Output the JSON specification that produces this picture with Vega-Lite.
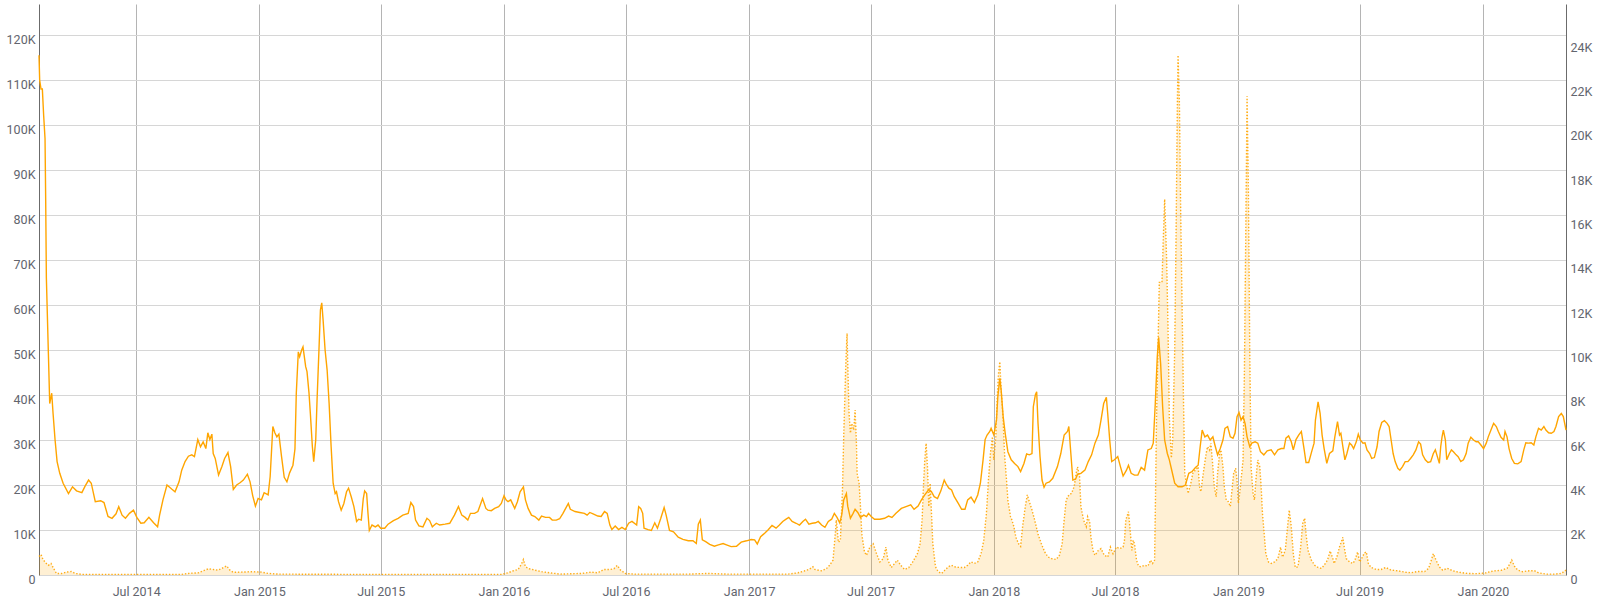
{
"$schema": "https://vega.github.io/schema/vega-lite/v6.json",
"width": 1527, "height": 571,
"autosize": {"type": "none"},
"padding": {"left": 39, "top": 4, "right": 34, "bottom": 25},
"background": "white",
"config": {"view": {"stroke": null}, "font": "Roboto", "axis": {"labelFont": "Roboto", "labelFontSize": 12.5, "labelColor": "#62656e", "ticks": false, "title": null}},
"datasets": {
"main": [
{"d":"2014-02-06","v":115.5},{"d":"2014-02-07","v":110},{"d":"2014-02-09","v":108},{"d":"2014-02-11","v":108},{"d":"2014-02-13","v":102},{"d":"2014-02-15","v":97},{"d":"2014-02-16","v":83},{"d":"2014-02-17","v":66},{"d":"2014-02-20","v":49.3},{"d":"2014-02-22","v":38.1},{"d":"2014-02-25","v":40.4},{"d":"2014-02-27","v":35.9},
{"d":"2014-03-02","v":30},{"d":"2014-03-05","v":25.2},{"d":"2014-03-09","v":22.6},{"d":"2014-03-14","v":20.4},{"d":"2014-03-22","v":18.1},{"d":"2014-03-28","v":19.6},{"d":"2014-04-03","v":18.7},{"d":"2014-04-11","v":18.3},{"d":"2014-04-16","v":19.8},{"d":"2014-04-21","v":21.1},{"d":"2014-04-25","v":20.4},
{"d":"2014-05-01","v":16.3},{"d":"2014-05-09","v":16.5},{"d":"2014-05-14","v":16.1},{"d":"2014-05-20","v":13},{"d":"2014-05-26","v":12.6},{"d":"2014-06-01","v":13.6},{"d":"2014-06-05","v":15.2},{"d":"2014-06-10","v":13.3},{"d":"2014-06-15","v":12.6},{"d":"2014-06-21","v":13.7},{"d":"2014-06-27","v":14.4},
{"d":"2014-07-02","v":12.8},{"d":"2014-07-08","v":11.5},{"d":"2014-07-13","v":11.6},{"d":"2014-07-20","v":12.8},{"d":"2014-07-27","v":11.6},{"d":"2014-08-02","v":10.7},{"d":"2014-08-05","v":13.3},{"d":"2014-08-10","v":16.7},{"d":"2014-08-16","v":20},{"d":"2014-08-23","v":19.1},{"d":"2014-08-28","v":18.5},
{"d":"2014-09-03","v":20.7},{"d":"2014-09-07","v":23.3},{"d":"2014-09-12","v":25.2},{"d":"2014-09-17","v":26.4},{"d":"2014-09-22","v":26.7},{"d":"2014-09-26","v":26.3},{"d":"2014-10-01","v":30.1},{"d":"2014-10-05","v":28.5},{"d":"2014-10-09","v":29.6},{"d":"2014-10-13","v":28.1},{"d":"2014-10-16","v":31.6},{"d":"2014-10-19","v":30.1},{"d":"2014-10-22","v":31.3},{"d":"2014-10-24","v":27},{"d":"2014-10-27","v":25.9},
{"d":"2014-11-01","v":22.2},{"d":"2014-11-06","v":24.1},{"d":"2014-11-10","v":25.9},{"d":"2014-11-15","v":27.2},{"d":"2014-11-19","v":24.1},{"d":"2014-11-23","v":19},{"d":"2014-11-28","v":20},{"d":"2014-12-03","v":20.5},{"d":"2014-12-08","v":21.1},{"d":"2014-12-14","v":22.4},{"d":"2014-12-18","v":20.7},{"d":"2014-12-22","v":17.6},{"d":"2014-12-26","v":15.3},{"d":"2014-12-30","v":17},
{"d":"2015-01-04","v":16.7},{"d":"2015-01-08","v":18.3},{"d":"2015-01-14","v":17.8},{"d":"2015-01-17","v":21.9},{"d":"2015-01-21","v":33},{"d":"2015-01-24","v":31.6},{"d":"2015-01-27","v":30.7},{"d":"2015-01-30","v":31.3},{"d":"2015-02-03","v":26.3},{"d":"2015-02-07","v":21.7},{"d":"2015-02-11","v":20.7},{"d":"2015-02-15","v":22.7},{"d":"2015-02-20","v":24.4},{"d":"2015-02-23","v":28},{"d":"2015-02-25","v":40.4},{"d":"2015-02-28","v":49.6},
{"d":"2015-03-02","v":48.5},{"d":"2015-03-05","v":50},{"d":"2015-03-07","v":50.7},{"d":"2015-03-11","v":46.3},{"d":"2015-03-13","v":45.2},{"d":"2015-03-16","v":40.4},{"d":"2015-03-18","v":35.9},{"d":"2015-03-21","v":28.5},{"d":"2015-03-23","v":25.2},{"d":"2015-03-26","v":30},{"d":"2015-03-28","v":38.9},{"d":"2015-03-31","v":50.7},
{"d":"2015-04-02","v":58.9},{"d":"2015-04-04","v":60.5},{"d":"2015-04-06","v":56.7},{"d":"2015-04-09","v":50},{"d":"2015-04-12","v":45.6},{"d":"2015-04-15","v":38.1},{"d":"2015-04-18","v":28.5},{"d":"2015-04-21","v":20.4},{"d":"2015-04-24","v":18.1},{"d":"2015-04-26","v":18.5},{"d":"2015-04-29","v":16.3},
{"d":"2015-05-03","v":14.4},{"d":"2015-05-07","v":15.9},{"d":"2015-05-11","v":18.5},{"d":"2015-05-14","v":19.3},{"d":"2015-05-18","v":17.4},{"d":"2015-05-22","v":15.2},{"d":"2015-05-26","v":11.9},{"d":"2015-05-29","v":12.4},{"d":"2015-06-02","v":12.2},{"d":"2015-06-05","v":17},{"d":"2015-06-07","v":18.7},{"d":"2015-06-10","v":18.1},{"d":"2015-06-12","v":13.7},{"d":"2015-06-14","v":9.9},{"d":"2015-06-18","v":11.1},{"d":"2015-06-23","v":10.7},{"d":"2015-06-27","v":11.1},
{"d":"2015-07-01","v":10.4},{"d":"2015-07-07","v":10.4},{"d":"2015-07-12","v":11.3},{"d":"2015-07-20","v":12.1},{"d":"2015-07-27","v":12.6},{"d":"2015-08-03","v":13.3},{"d":"2015-08-11","v":13.7},{"d":"2015-08-15","v":16.1},{"d":"2015-08-19","v":15.2},{"d":"2015-08-22","v":12.2},{"d":"2015-08-27","v":10.9},
{"d":"2015-09-02","v":10.7},{"d":"2015-09-08","v":12.6},{"d":"2015-09-12","v":12.1},{"d":"2015-09-16","v":10.7},{"d":"2015-09-22","v":11.5},{"d":"2015-09-27","v":11.1},{"d":"2015-10-05","v":11.3},{"d":"2015-10-12","v":11.5},{"d":"2015-10-19","v":13.3},{"d":"2015-10-25","v":15.2},{"d":"2015-10-30","v":13.3},
{"d":"2015-11-04","v":12.8},{"d":"2015-11-08","v":12.2},{"d":"2015-11-12","v":13.7},{"d":"2015-11-18","v":13.7},{"d":"2015-11-23","v":14.1},{"d":"2015-11-30","v":17},{"d":"2015-12-05","v":14.8},{"d":"2015-12-08","v":14.4},{"d":"2015-12-13","v":14.3},{"d":"2015-12-18","v":14.8},{"d":"2015-12-24","v":15.2},{"d":"2015-12-28","v":15.9},
{"d":"2016-01-01","v":17.6},{"d":"2016-01-04","v":16.7},{"d":"2016-01-07","v":16.3},{"d":"2016-01-11","v":16.7},{"d":"2016-01-17","v":14.8},{"d":"2016-01-21","v":16.3},{"d":"2016-01-25","v":18.5},{"d":"2016-01-30","v":19.6},{"d":"2016-02-02","v":16.7},{"d":"2016-02-06","v":14.8},{"d":"2016-02-11","v":13.3},{"d":"2016-02-16","v":13},{"d":"2016-02-22","v":12.2},{"d":"2016-02-26","v":13.1},
{"d":"2016-03-03","v":12.8},{"d":"2016-03-09","v":12.8},{"d":"2016-03-13","v":12.2},{"d":"2016-03-19","v":12.2},{"d":"2016-03-24","v":12.5},{"d":"2016-03-29","v":13.7},{"d":"2016-04-02","v":14.8},{"d":"2016-04-06","v":15.9},{"d":"2016-04-09","v":14.6},{"d":"2016-04-16","v":14.1},{"d":"2016-04-23","v":13.9},{"d":"2016-04-30","v":13.7},
{"d":"2016-05-04","v":13.3},{"d":"2016-05-08","v":13.9},{"d":"2016-05-13","v":13.6},{"d":"2016-05-20","v":13.1},{"d":"2016-05-25","v":13},{"d":"2016-05-30","v":14.1},{"d":"2016-06-03","v":13.7},{"d":"2016-06-07","v":11.1},{"d":"2016-06-10","v":10.1},{"d":"2016-06-15","v":10.9},{"d":"2016-06-20","v":10.1},{"d":"2016-06-25","v":10.6},{"d":"2016-06-30","v":10.1},
{"d":"2016-07-05","v":11.5},{"d":"2016-07-10","v":11.9},{"d":"2016-07-17","v":11.1},{"d":"2016-07-20","v":15.2},{"d":"2016-07-23","v":14.8},{"d":"2016-07-26","v":13.7},{"d":"2016-07-28","v":10.4},{"d":"2016-08-03","v":10.1},{"d":"2016-08-08","v":9.9},{"d":"2016-08-13","v":11.6},{"d":"2016-08-17","v":10.4},{"d":"2016-08-22","v":12.6},{"d":"2016-08-27","v":15},{"d":"2016-08-30","v":13.3},
{"d":"2016-09-04","v":9.9},{"d":"2016-09-10","v":9.6},{"d":"2016-09-17","v":8.4},{"d":"2016-09-24","v":7.9},{"d":"2016-10-02","v":7.6},{"d":"2016-10-09","v":7.6},{"d":"2016-10-14","v":7},{"d":"2016-10-17","v":11.3},{"d":"2016-10-20","v":12.2},{"d":"2016-10-23","v":7.8},{"d":"2016-10-28","v":7.4},
{"d":"2016-11-03","v":6.8},{"d":"2016-11-10","v":6.4},{"d":"2016-11-16","v":6.7},{"d":"2016-11-23","v":7},{"d":"2016-11-28","v":6.7},{"d":"2016-12-05","v":6.3},{"d":"2016-12-13","v":6.4},{"d":"2016-12-20","v":7.3},{"d":"2016-12-28","v":7.6},
{"d":"2017-01-04","v":7.9},{"d":"2017-01-09","v":7.8},{"d":"2017-01-13","v":6.9},{"d":"2017-01-18","v":8.5},{"d":"2017-01-24","v":9.3},{"d":"2017-01-29","v":10},{"d":"2017-02-04","v":11},{"d":"2017-02-10","v":10.4},{"d":"2017-02-15","v":11.1},{"d":"2017-02-20","v":11.9},{"d":"2017-02-25","v":12.4},
{"d":"2017-03-01","v":12.8},{"d":"2017-03-06","v":11.9},{"d":"2017-03-12","v":11.5},{"d":"2017-03-17","v":11.1},{"d":"2017-03-22","v":11.9},{"d":"2017-03-26","v":12.4},{"d":"2017-03-31","v":11.3},{"d":"2017-04-05","v":11.5},{"d":"2017-04-10","v":11.6},{"d":"2017-04-14","v":11.9},{"d":"2017-04-19","v":11.1},{"d":"2017-04-24","v":10.6},{"d":"2017-04-29","v":11.9},
{"d":"2017-05-04","v":12.4},{"d":"2017-05-08","v":13.7},{"d":"2017-05-12","v":12.8},{"d":"2017-05-16","v":11.6},{"d":"2017-05-19","v":13.3},{"d":"2017-05-22","v":16.7},{"d":"2017-05-26","v":18.1},{"d":"2017-05-28","v":15.3},{"d":"2017-06-01","v":12.6},{"d":"2017-06-05","v":13.7},{"d":"2017-06-08","v":14.6},{"d":"2017-06-12","v":13.9},{"d":"2017-06-16","v":12.8},{"d":"2017-06-21","v":13.3},{"d":"2017-06-25","v":13},{"d":"2017-06-28","v":13.7},
{"d":"2017-07-02","v":13},{"d":"2017-07-07","v":12.4},{"d":"2017-07-15","v":12.4},{"d":"2017-07-22","v":12.6},{"d":"2017-07-28","v":13.1},{"d":"2017-08-02","v":12.8},{"d":"2017-08-08","v":13.7},{"d":"2017-08-16","v":14.8},{"d":"2017-08-23","v":15.2},{"d":"2017-08-30","v":15.6},
{"d":"2017-09-04","v":14.6},{"d":"2017-09-10","v":15.3},{"d":"2017-09-15","v":16.7},{"d":"2017-09-20","v":17.8},{"d":"2017-09-26","v":19},{"d":"2017-09-30","v":18.5},{"d":"2017-10-04","v":17.4},{"d":"2017-10-09","v":17},{"d":"2017-10-14","v":18.7},{"d":"2017-10-19","v":21.1},{"d":"2017-10-22","v":20.2},{"d":"2017-10-26","v":19.3},{"d":"2017-10-30","v":18.9},
{"d":"2017-11-03","v":17.4},{"d":"2017-11-09","v":15.9},{"d":"2017-11-14","v":14.6},{"d":"2017-11-19","v":14.6},{"d":"2017-11-23","v":16.7},{"d":"2017-11-28","v":17.3},{"d":"2017-12-03","v":16.1},{"d":"2017-12-08","v":17.8},{"d":"2017-12-12","v":20.4},{"d":"2017-12-16","v":25.6},{"d":"2017-12-19","v":30.1},{"d":"2017-12-22","v":31.1},{"d":"2017-12-26","v":31.9},{"d":"2017-12-28","v":32.6},
{"d":"2018-01-01","v":31.1},{"d":"2018-01-05","v":34.4},{"d":"2018-01-07","v":39.6},{"d":"2018-01-10","v":43.7},{"d":"2018-01-12","v":41.1},{"d":"2018-01-15","v":35.2},{"d":"2018-01-18","v":31.5},{"d":"2018-01-22","v":27.4},{"d":"2018-01-27","v":25.6},
{"d":"2018-02-01","v":24.8},{"d":"2018-02-06","v":24.1},{"d":"2018-02-10","v":23},{"d":"2018-02-15","v":24.8},{"d":"2018-02-19","v":26.9},{"d":"2018-02-23","v":26.7},{"d":"2018-02-27","v":27},{"d":"2018-03-01","v":37.4},{"d":"2018-03-04","v":40},{"d":"2018-03-06","v":40.7},{"d":"2018-03-08","v":33.7},{"d":"2018-03-11","v":26.3},{"d":"2018-03-14","v":21.1},{"d":"2018-03-17","v":19.5},{"d":"2018-03-20","v":20.4},{"d":"2018-03-25","v":20.7},{"d":"2018-03-30","v":21.5},
{"d":"2018-04-06","v":24.1},{"d":"2018-04-11","v":27},{"d":"2018-04-16","v":31.1},{"d":"2018-04-21","v":31.9},{"d":"2018-04-23","v":33},{"d":"2018-04-26","v":27},{"d":"2018-04-29","v":21.1},{"d":"2018-05-03","v":21.3},{"d":"2018-05-06","v":22.4},{"d":"2018-05-11","v":22.6},{"d":"2018-05-17","v":23.3},{"d":"2018-05-22","v":25.2},{"d":"2018-05-27","v":26.7},
{"d":"2018-06-01","v":29.3},{"d":"2018-06-06","v":31.1},{"d":"2018-06-10","v":34.4},{"d":"2018-06-14","v":38.1},{"d":"2018-06-18","v":39.5},{"d":"2018-06-20","v":35.9},{"d":"2018-06-23","v":30},{"d":"2018-06-26","v":25.2},{"d":"2018-06-30","v":25.6},
{"d":"2018-07-05","v":26.3},{"d":"2018-07-09","v":24.1},{"d":"2018-07-13","v":22},{"d":"2018-07-18","v":23.3},{"d":"2018-07-21","v":24.4},{"d":"2018-07-25","v":22.6},{"d":"2018-07-30","v":22.2},{"d":"2018-08-04","v":22.2},{"d":"2018-08-09","v":23.9},{"d":"2018-08-14","v":23.3},{"d":"2018-08-19","v":27.8},{"d":"2018-08-24","v":28.1},{"d":"2018-08-27","v":29.3},{"d":"2018-08-30","v":38.1},
{"d":"2018-09-02","v":48.5},{"d":"2018-09-04","v":52.8},{"d":"2018-09-07","v":47},{"d":"2018-09-10","v":37.4},{"d":"2018-09-13","v":30},{"d":"2018-09-17","v":27},{"d":"2018-09-20","v":25.6},{"d":"2018-09-24","v":23},{"d":"2018-09-28","v":20.4},
{"d":"2018-10-03","v":19.6},{"d":"2018-10-09","v":19.6},{"d":"2018-10-14","v":20},{"d":"2018-10-19","v":22.6},{"d":"2018-10-24","v":23},{"d":"2018-10-29","v":23.9},{"d":"2018-11-02","v":24.4},{"d":"2018-11-05","v":28.5},{"d":"2018-11-08","v":32.2},{"d":"2018-11-12","v":30.7},{"d":"2018-11-16","v":31.1},{"d":"2018-11-20","v":30},{"d":"2018-11-24","v":30.7},{"d":"2018-11-27","v":28.9},
{"d":"2018-12-01","v":26.7},{"d":"2018-12-05","v":28.1},{"d":"2018-12-09","v":30},{"d":"2018-12-12","v":32.6},{"d":"2018-12-16","v":33},{"d":"2018-12-20","v":30.7},{"d":"2018-12-24","v":30.4},{"d":"2018-12-27","v":31.5},{"d":"2018-12-30","v":35.2},
{"d":"2019-01-02","v":36.1},{"d":"2019-01-05","v":34.4},{"d":"2019-01-08","v":35.2},{"d":"2019-01-11","v":33.7},{"d":"2019-01-14","v":30.7},{"d":"2019-01-18","v":28.5},{"d":"2019-01-21","v":29.3},{"d":"2019-01-26","v":29.6},{"d":"2019-01-30","v":29.3},
{"d":"2019-02-03","v":27.4},{"d":"2019-02-08","v":26.7},{"d":"2019-02-13","v":27.6},{"d":"2019-02-19","v":27.8},{"d":"2019-02-24","v":26.7},{"d":"2019-03-01","v":27.8},{"d":"2019-03-06","v":28.1},{"d":"2019-03-10","v":28.1},{"d":"2019-03-13","v":30.4},{"d":"2019-03-17","v":30.9},{"d":"2019-03-21","v":29.6},{"d":"2019-03-24","v":27.8},{"d":"2019-03-28","v":30.1},
{"d":"2019-04-01","v":31.1},{"d":"2019-04-05","v":31.9},{"d":"2019-04-09","v":28.1},{"d":"2019-04-12","v":25},{"d":"2019-04-16","v":25},{"d":"2019-04-20","v":27.2},{"d":"2019-04-24","v":29.3},{"d":"2019-04-26","v":34.4},{"d":"2019-04-30","v":38.5},
{"d":"2019-05-03","v":35.9},{"d":"2019-05-06","v":31.1},{"d":"2019-05-09","v":28.1},{"d":"2019-05-13","v":24.8},{"d":"2019-05-17","v":27},{"d":"2019-05-22","v":27.6},{"d":"2019-05-25","v":30.7},{"d":"2019-05-29","v":34.1},
{"d":"2019-06-01","v":31.1},{"d":"2019-06-03","v":31.5},{"d":"2019-06-06","v":28.5},{"d":"2019-06-09","v":25.6},{"d":"2019-06-12","v":27},{"d":"2019-06-16","v":29.3},{"d":"2019-06-19","v":28.9},{"d":"2019-06-22","v":28.1},{"d":"2019-06-26","v":29.6},{"d":"2019-06-29","v":31.3},
{"d":"2019-07-02","v":30},{"d":"2019-07-06","v":29.3},{"d":"2019-07-09","v":29.4},{"d":"2019-07-12","v":27.8},{"d":"2019-07-16","v":27},{"d":"2019-07-19","v":25.9},{"d":"2019-07-23","v":26.1},{"d":"2019-07-27","v":28.5},{"d":"2019-07-30","v":31.9},
{"d":"2019-08-03","v":33.9},{"d":"2019-08-07","v":34.3},{"d":"2019-08-11","v":33.7},{"d":"2019-08-14","v":33},{"d":"2019-08-17","v":30},{"d":"2019-08-20","v":27},{"d":"2019-08-23","v":25.2},{"d":"2019-08-27","v":23.7},{"d":"2019-08-30","v":23.3},
{"d":"2019-09-03","v":24.1},{"d":"2019-09-07","v":25.2},{"d":"2019-09-11","v":25.2},{"d":"2019-09-15","v":25.9},{"d":"2019-09-19","v":26.7},{"d":"2019-09-23","v":27.8},{"d":"2019-09-27","v":29.6},{"d":"2019-09-30","v":29.1},
{"d":"2019-10-03","v":26.7},{"d":"2019-10-07","v":25.6},{"d":"2019-10-11","v":25},{"d":"2019-10-15","v":25.2},{"d":"2019-10-19","v":27},{"d":"2019-10-22","v":27.8},{"d":"2019-10-25","v":26.3},{"d":"2019-10-28","v":24.8},{"d":"2019-10-30","v":28.5},
{"d":"2019-11-01","v":30.7},{"d":"2019-11-03","v":32.2},{"d":"2019-11-06","v":30},{"d":"2019-11-08","v":25.6},{"d":"2019-11-12","v":27},{"d":"2019-11-15","v":27.8},{"d":"2019-11-18","v":27.4},{"d":"2019-11-22","v":26.7},{"d":"2019-11-25","v":26.3},{"d":"2019-11-29","v":25.2},
{"d":"2019-12-03","v":25.6},{"d":"2019-12-07","v":27},{"d":"2019-12-10","v":29.3},{"d":"2019-12-14","v":30.6},{"d":"2019-12-18","v":30},{"d":"2019-12-22","v":29.6},{"d":"2019-12-25","v":29.6},{"d":"2019-12-29","v":28.9},
{"d":"2020-01-02","v":28.1},{"d":"2020-01-06","v":29.3},{"d":"2020-01-09","v":30.7},{"d":"2020-01-13","v":32.2},{"d":"2020-01-17","v":33.7},{"d":"2020-01-21","v":33},{"d":"2020-01-24","v":31.9},{"d":"2020-01-28","v":30.6},
{"d":"2020-02-01","v":30},{"d":"2020-02-03","v":31.9},{"d":"2020-02-06","v":30.7},{"d":"2020-02-09","v":28.1},{"d":"2020-02-13","v":25.9},{"d":"2020-02-17","v":24.8},{"d":"2020-02-22","v":24.7},{"d":"2020-02-27","v":25.2},
{"d":"2020-03-02","v":27.8},{"d":"2020-03-05","v":29.4},{"d":"2020-03-09","v":29.3},{"d":"2020-03-13","v":29.4},{"d":"2020-03-17","v":28.9},{"d":"2020-03-20","v":30.7},{"d":"2020-03-24","v":32.6},{"d":"2020-03-28","v":32.2},
{"d":"2020-04-01","v":33},{"d":"2020-04-04","v":32.2},{"d":"2020-04-08","v":31.6},{"d":"2020-04-12","v":31.5},{"d":"2020-04-16","v":31.9},{"d":"2020-04-19","v":33},{"d":"2020-04-23","v":35.2},{"d":"2020-04-27","v":35.9},{"d":"2020-04-30","v":35.2},{"d":"2020-05-03","v":33},{"d":"2020-05-04","v":32.2}
],
"dot": [
{"d":"2014-02-06","v":0.84},{"d":"2014-02-09","v":0.93},{"d":"2014-02-12","v":0.7},{"d":"2014-02-16","v":0.55},{"d":"2014-02-20","v":0.44},{"d":"2014-02-24","v":0.52},{"d":"2014-02-27","v":0.34},{"d":"2014-03-04","v":0.07},{"d":"2014-03-12","v":0.07},{"d":"2014-03-19","v":0.13},{"d":"2014-03-26","v":0.16},{"d":"2014-04-01","v":0.07},{"d":"2014-04-11","v":0.03},
{"d":"2014-09-07","v":0.03},{"d":"2014-09-17","v":0.07},{"d":"2014-10-02","v":0.1},{"d":"2014-10-09","v":0.19},{"d":"2014-10-17","v":0.28},{"d":"2014-10-24","v":0.25},{"d":"2014-10-31","v":0.22},{"d":"2014-11-05","v":0.28},{"d":"2014-11-13","v":0.41},{"d":"2014-11-18","v":0.22},{"d":"2014-11-23","v":0.12},{"d":"2014-12-05","v":0.13},{"d":"2014-12-20","v":0.15},
{"d":"2015-01-04","v":0.13},{"d":"2015-01-14","v":0.07},{"d":"2015-01-29","v":0.04},{"d":"2015-05-02","v":0.03},{"d":"2015-09-29","v":0.03},{"d":"2015-12-28","v":0.03},
{"d":"2016-01-07","v":0.1},{"d":"2016-01-15","v":0.19},{"d":"2016-01-22","v":0.25},{"d":"2016-01-27","v":0.49},{"d":"2016-01-30","v":0.7},{"d":"2016-02-02","v":0.37},{"d":"2016-02-08","v":0.28},{"d":"2016-02-16","v":0.22},{"d":"2016-02-26","v":0.15},{"d":"2016-03-09","v":0.1},{"d":"2016-03-24","v":0.04},
{"d":"2016-04-26","v":0.07},{"d":"2016-05-10","v":0.13},{"d":"2016-05-20","v":0.1},{"d":"2016-05-29","v":0.25},{"d":"2016-06-07","v":0.25},{"d":"2016-06-13","v":0.28},{"d":"2016-06-18","v":0.43},{"d":"2016-06-23","v":0.22},{"d":"2016-06-30","v":0.07},{"d":"2016-07-14","v":0.04},{"d":"2016-10-02","v":0.04},{"d":"2016-10-31","v":0.07},{"d":"2016-11-30","v":0.04},
{"d":"2017-02-28","v":0.04},{"d":"2017-03-15","v":0.1},{"d":"2017-03-24","v":0.18},{"d":"2017-03-31","v":0.25},{"d":"2017-04-06","v":0.37},{"d":"2017-04-09","v":0.25},{"d":"2017-04-19","v":0.19},{"d":"2017-04-26","v":0.28},
{"d":"2017-05-01","v":0.44},{"d":"2017-05-06","v":0.67},{"d":"2017-05-09","v":1.7},{"d":"2017-05-11","v":2.48},{"d":"2017-05-14","v":1.48},{"d":"2017-05-17","v":1.56},{"d":"2017-05-20","v":3.68},{"d":"2017-05-22","v":6.24},{"d":"2017-05-25","v":9.4},{"d":"2017-05-27","v":10.9},{"d":"2017-05-28","v":9.55},{"d":"2017-05-30","v":7.3},
{"d":"2017-06-01","v":6.4},{"d":"2017-06-03","v":6.84},{"d":"2017-06-06","v":6.54},{"d":"2017-06-08","v":7.44},{"d":"2017-06-10","v":5.94},{"d":"2017-06-11","v":4.59},{"d":"2017-06-14","v":4.13},{"d":"2017-06-16","v":3.09},{"d":"2017-06-18","v":1.85},{"d":"2017-06-22","v":1.04},{"d":"2017-06-25","v":0.89},{"d":"2017-06-30","v":1.26},
{"d":"2017-07-05","v":1.41},{"d":"2017-07-10","v":0.96},{"d":"2017-07-15","v":0.59},{"d":"2017-07-20","v":0.74},{"d":"2017-07-24","v":1.26},{"d":"2017-07-27","v":0.67},{"d":"2017-08-01","v":0.34},{"d":"2017-08-06","v":0.52},{"d":"2017-08-10","v":0.67},{"d":"2017-08-15","v":0.44},{"d":"2017-08-21","v":0.25},{"d":"2017-08-27","v":0.33},
{"d":"2017-09-02","v":0.59},{"d":"2017-09-09","v":0.96},{"d":"2017-09-13","v":1.41},{"d":"2017-09-16","v":2.48},{"d":"2017-09-18","v":3.99},{"d":"2017-09-20","v":5.19},{"d":"2017-09-22","v":5.94},{"d":"2017-09-24","v":4.88},{"d":"2017-09-26","v":3.09},{"d":"2017-09-28","v":4.13},{"d":"2017-09-30","v":2.78},
{"d":"2017-10-02","v":1.41},{"d":"2017-10-06","v":0.37},{"d":"2017-10-10","v":0.15},{"d":"2017-10-15","v":0.07},{"d":"2017-10-20","v":0.22},{"d":"2017-10-25","v":0.37},{"d":"2017-10-30","v":0.44},{"d":"2017-11-03","v":0.37},{"d":"2017-11-11","v":0.34},{"d":"2017-11-18","v":0.34},{"d":"2017-11-23","v":0.44},{"d":"2017-11-28","v":0.59},
{"d":"2017-12-03","v":0.52},{"d":"2017-12-08","v":0.59},{"d":"2017-12-13","v":0.96},{"d":"2017-12-17","v":1.56},{"d":"2017-12-21","v":2.78},{"d":"2017-12-24","v":4.28},{"d":"2017-12-27","v":5.49},{"d":"2017-12-30","v":6.24},
{"d":"2018-01-01","v":5.19},{"d":"2018-01-04","v":6.24},{"d":"2018-01-06","v":7.9},{"d":"2018-01-08","v":9.09},{"d":"2018-01-10","v":9.62},{"d":"2018-01-12","v":8.34},{"d":"2018-01-15","v":6.99},{"d":"2018-01-17","v":5.49},{"d":"2018-01-20","v":4.28},{"d":"2018-01-22","v":3.38},{"d":"2018-01-26","v":2.63},{"d":"2018-01-28","v":2.48},{"d":"2018-01-31","v":2.18},
{"d":"2018-02-03","v":1.7},{"d":"2018-02-07","v":1.41},{"d":"2018-02-10","v":1.29},{"d":"2018-02-13","v":2.18},{"d":"2018-02-17","v":3.09},{"d":"2018-02-20","v":3.61},{"d":"2018-02-23","v":3.31},{"d":"2018-02-27","v":2.93},
{"d":"2018-03-03","v":2.48},{"d":"2018-03-08","v":1.85},{"d":"2018-03-13","v":1.41},{"d":"2018-03-18","v":1.04},{"d":"2018-03-23","v":0.81},{"d":"2018-03-28","v":0.74},{"d":"2018-04-04","v":0.7},{"d":"2018-04-09","v":0.89},{"d":"2018-04-13","v":1.41},{"d":"2018-04-16","v":2.48},{"d":"2018-04-19","v":3.38},{"d":"2018-04-23","v":3.61},{"d":"2018-04-27","v":3.68},
{"d":"2018-05-01","v":3.99},{"d":"2018-05-04","v":4.59},{"d":"2018-05-06","v":4.88},{"d":"2018-05-09","v":4.44},{"d":"2018-05-11","v":3.09},{"d":"2018-05-15","v":2.48},{"d":"2018-05-19","v":2.18},{"d":"2018-05-21","v":2.63},{"d":"2018-05-24","v":2.41},{"d":"2018-05-26","v":1.7},{"d":"2018-05-29","v":1.11},
{"d":"2018-06-01","v":0.89},{"d":"2018-06-06","v":1.11},{"d":"2018-06-10","v":1.19},{"d":"2018-06-15","v":0.89},{"d":"2018-06-20","v":0.81},{"d":"2018-06-24","v":1.26},{"d":"2018-06-28","v":0.96},
{"d":"2018-07-03","v":1.26},{"d":"2018-07-08","v":1.19},{"d":"2018-07-13","v":1.26},{"d":"2018-07-15","v":1.56},{"d":"2018-07-17","v":2.48},{"d":"2018-07-21","v":2.85},{"d":"2018-07-24","v":1.85},{"d":"2018-07-26","v":1.11},{"d":"2018-07-28","v":1.56},{"d":"2018-07-30","v":1.41},
{"d":"2018-08-02","v":0.67},{"d":"2018-08-05","v":0.4},{"d":"2018-08-09","v":0.37},{"d":"2018-08-14","v":0.44},{"d":"2018-08-19","v":0.4},{"d":"2018-08-23","v":0.67},{"d":"2018-08-26","v":0.52},{"d":"2018-08-29","v":0.67},{"d":"2018-08-30","v":2.78},
{"d":"2018-09-01","v":7.3},{"d":"2018-09-03","v":10.15},{"d":"2018-09-05","v":13.2},{"d":"2018-09-09","v":13.2},{"d":"2018-09-11","v":15.2},{"d":"2018-09-13","v":16.95},{"d":"2018-09-16","v":14.2},{"d":"2018-09-18","v":11.2},{"d":"2018-09-20","v":7.1},{"d":"2018-09-23","v":5.28},{"d":"2018-09-25","v":6.1},{"d":"2018-09-28","v":10.15},{"d":"2018-09-30","v":15.2},
{"d":"2018-10-02","v":21.3},{"d":"2018-10-03","v":23.45},{"d":"2018-10-05","v":21.3},{"d":"2018-10-07","v":16.2},{"d":"2018-10-09","v":12.2},{"d":"2018-10-11","v":8.1},{"d":"2018-10-13","v":4.57},{"d":"2018-10-18","v":3.68},{"d":"2018-10-22","v":4.13},{"d":"2018-10-25","v":4.59},{"d":"2018-10-29","v":4.74},
{"d":"2018-11-02","v":4.88},{"d":"2018-11-04","v":3.99},{"d":"2018-11-06","v":3.76},{"d":"2018-11-09","v":4.44},{"d":"2018-11-11","v":4.88},{"d":"2018-11-14","v":5.49},{"d":"2018-11-16","v":5.79},{"d":"2018-11-19","v":5.64},{"d":"2018-11-21","v":5.94},{"d":"2018-11-24","v":4.88},{"d":"2018-11-26","v":3.99},{"d":"2018-11-29","v":3.53},
{"d":"2018-12-01","v":4.59},{"d":"2018-12-04","v":5.49},{"d":"2018-12-06","v":5.64},{"d":"2018-12-09","v":4.88},{"d":"2018-12-11","v":3.99},{"d":"2018-12-14","v":3.38},{"d":"2018-12-17","v":3.31},{"d":"2018-12-20","v":3.09},{"d":"2018-12-23","v":3.99},{"d":"2018-12-25","v":4.59},{"d":"2018-12-28","v":4.81},{"d":"2018-12-30","v":4.28},
{"d":"2019-01-01","v":3.24},{"d":"2019-01-03","v":3.68},{"d":"2019-01-05","v":4.28},{"d":"2019-01-08","v":5.19},{"d":"2019-01-10","v":9.1},{"d":"2019-01-12","v":15.2},{"d":"2019-01-14","v":21.6},{"d":"2019-01-16","v":17.3},{"d":"2019-01-18","v":10.15},{"d":"2019-01-20","v":4.88},{"d":"2019-01-23","v":3.68},{"d":"2019-01-25","v":3.38},{"d":"2019-01-28","v":4.59},{"d":"2019-01-30","v":5.19},
{"d":"2019-02-02","v":4.88},{"d":"2019-02-04","v":3.99},{"d":"2019-02-06","v":2.78},{"d":"2019-02-09","v":1.7},{"d":"2019-02-11","v":0.96},{"d":"2019-02-15","v":0.59},{"d":"2019-02-19","v":0.52},{"d":"2019-02-24","v":0.59},
{"d":"2019-03-01","v":0.74},{"d":"2019-03-05","v":1.26},{"d":"2019-03-08","v":0.81},{"d":"2019-03-12","v":1.11},{"d":"2019-03-15","v":2.03},{"d":"2019-03-18","v":2.93},{"d":"2019-03-21","v":2.18},{"d":"2019-03-24","v":0.96},{"d":"2019-03-27","v":0.34},{"d":"2019-03-31","v":0.37},
{"d":"2019-04-04","v":1.26},{"d":"2019-04-07","v":2.33},{"d":"2019-04-10","v":2.56},{"d":"2019-04-12","v":1.85},{"d":"2019-04-15","v":1.11},{"d":"2019-04-20","v":0.67},{"d":"2019-04-25","v":0.44},{"d":"2019-04-30","v":0.34},
{"d":"2019-05-05","v":0.3},{"d":"2019-05-09","v":0.44},{"d":"2019-05-14","v":0.67},{"d":"2019-05-18","v":1.08},{"d":"2019-05-22","v":0.74},{"d":"2019-05-24","v":0.52},{"d":"2019-05-28","v":0.81},
{"d":"2019-06-01","v":1.26},{"d":"2019-06-06","v":1.7},{"d":"2019-06-08","v":1.26},{"d":"2019-06-11","v":0.74},{"d":"2019-06-16","v":0.59},{"d":"2019-06-21","v":0.52},{"d":"2019-06-24","v":0.67},{"d":"2019-06-28","v":1.04},
{"d":"2019-07-01","v":0.59},{"d":"2019-07-04","v":0.74},{"d":"2019-07-08","v":0.99},{"d":"2019-07-11","v":1.04},{"d":"2019-07-14","v":0.52},{"d":"2019-07-18","v":0.34},{"d":"2019-07-26","v":0.25},{"d":"2019-08-02","v":0.25},{"d":"2019-08-09","v":0.34},{"d":"2019-08-17","v":0.22},{"d":"2019-08-27","v":0.19},
{"d":"2019-09-06","v":0.13},{"d":"2019-09-16","v":0.1},{"d":"2019-09-26","v":0.16},{"d":"2019-10-06","v":0.16},{"d":"2019-10-12","v":0.3},{"d":"2019-10-16","v":0.67},{"d":"2019-10-19","v":0.96},{"d":"2019-10-23","v":0.67},{"d":"2019-10-28","v":0.37},
{"d":"2019-11-02","v":0.22},{"d":"2019-11-09","v":0.3},{"d":"2019-11-17","v":0.19},{"d":"2019-11-27","v":0.12},{"d":"2019-12-09","v":0.07},{"d":"2019-12-24","v":0.06},
{"d":"2020-01-06","v":0.1},{"d":"2020-01-16","v":0.18},{"d":"2020-01-28","v":0.21},{"d":"2020-02-06","v":0.3},{"d":"2020-02-10","v":0.49},{"d":"2020-02-13","v":0.67},{"d":"2020-02-17","v":0.4},{"d":"2020-02-22","v":0.22},{"d":"2020-02-29","v":0.15},
{"d":"2020-03-10","v":0.19},{"d":"2020-03-18","v":0.19},{"d":"2020-03-24","v":0.1},{"d":"2020-04-04","v":0.04},{"d":"2020-04-17","v":0.04},{"d":"2020-04-27","v":0.07},{"d":"2020-05-02","v":0.18},{"d":"2020-05-04","v":0.22}
]
},
"encoding": {
"x": {"field": "d", "type": "temporal",
 "scale": {"type": "utc", "nice": false, "domain": [{"year": 2014, "month": 2, "date": 6, "utc": true}, {"year": 2020, "month": 5, "date": 4, "utc": true}]},
 "axis": {"values": [
   {"year": 2014, "month": 7, "date": 1, "utc": true}, {"year": 2015, "month": 1, "date": 1, "utc": true},
   {"year": 2015, "month": 7, "date": 1, "utc": true}, {"year": 2016, "month": 1, "date": 1, "utc": true},
   {"year": 2016, "month": 7, "date": 1, "utc": true}, {"year": 2017, "month": 1, "date": 1, "utc": true},
   {"year": 2017, "month": 7, "date": 1, "utc": true}, {"year": 2018, "month": 1, "date": 1, "utc": true},
   {"year": 2018, "month": 7, "date": 1, "utc": true}, {"year": 2019, "month": 1, "date": 1, "utc": true},
   {"year": 2019, "month": 7, "date": 1, "utc": true}, {"year": 2020, "month": 1, "date": 1, "utc": true}],
  "labelExpr": "utcFormat(datum.value, '%b %Y')", "grid": true, "gridColor": "#b4b4b4", "gridWidth": 1,
  "domain": false, "ticks": false, "labelPadding": 10, "title": null, "labelFlush": false, "labelOverlap": false}}
},
"layer": [
 {"data": {"name": "dot"},
  "mark": {"type": "area", "fill": "#ffa500", "fillOpacity": 0.17, "stroke": null},
  "encoding": {"y": {"field": "v", "type": "quantitative", "scale": {"domain": [0, 25.76], "nice": false, "zero": true}, "axis": null}}},
 {"data": {"name": "dot"},
  "mark": {"type": "line", "stroke": "#ffa500", "strokeWidth": 1.4, "strokeDash": [1.4, 1.8], "strokeOpacity": 0.9},
  "encoding": {"y": {"field": "v", "type": "quantitative", "scale": {"domain": [0, 25.76], "nice": false, "zero": true},
   "axis": {"orient": "right", "values": [0,2,4,6,8,10,12,14,16,18,20,22,24], "labelExpr": "datum.value == 0 ? '0' : datum.value + 'K'", "grid": false, "domain": true, "domainColor": "#6b6b6b", "ticks": false, "labelPadding": 4, "labelOffset": 4, "title": null}}}},
 {"data": {"name": "main"},
  "mark": {"type": "line", "stroke": "#ffa500", "strokeWidth": 1.4},
  "encoding": {"y": {"field": "v", "type": "quantitative", "scale": {"domain": [0, 126.9], "nice": false, "zero": true},
   "axis": {"orient": "left", "values": [0,10,20,30,40,50,60,70,80,90,100,110,120], "labelExpr": "datum.value == 0 ? '0' : datum.value + 'K'", "grid": true, "gridColor": "#d6d6d6", "gridWidth": 1, "domain": true, "domainColor": "#6b6b6b", "ticks": false, "labelPadding": 4, "labelOffset": 4, "title": null}}}}
],
"resolve": {"scale": {"y": "independent"}}
}
